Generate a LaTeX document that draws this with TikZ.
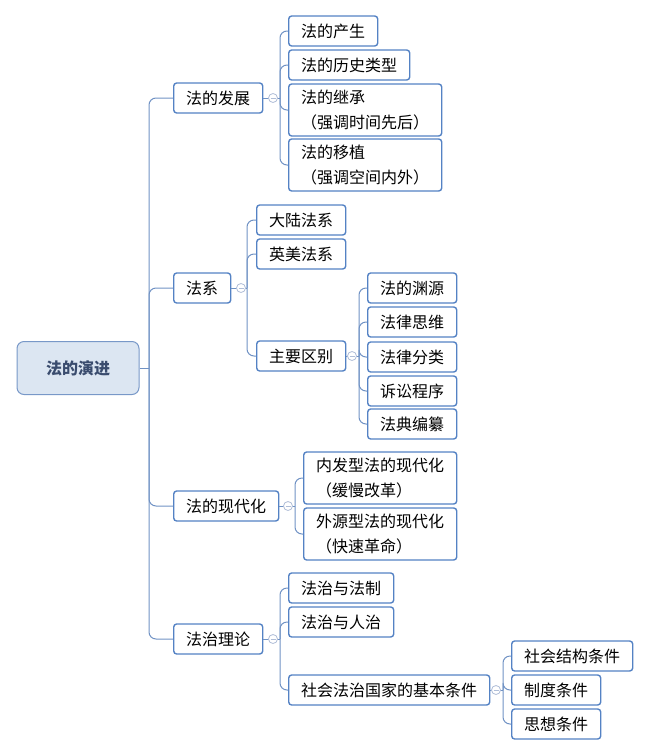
\documentclass[tikz,border=0pt]{standalone}
\usepackage{fontspec}
\newfontfamily\cjk{Noto Sans CJK SC}
\usetikzlibrary{positioning}
\definecolor{mmborder}{RGB}{84,130,196}
\definecolor{mmlink}{RGB}{112,146,196}
\definecolor{mmroot}{RGB}{220,230,242}
\definecolor{mmrootline}{RGB}{120,152,200}
\definecolor{mmroottext}{RGB}{58,76,110}
\definecolor{mmfold}{RGB}{176,190,216}

\begin{document}
\begin{tikzpicture}[x=1pt,y=-1pt,
    every node/.style={font=\cjk\fontsize{16}{25}\selectfont},
    topic/.style={draw=mmborder,line width=1.4pt,rounded corners=3pt,fill=white,
      anchor=west,minimum height=30,inner xsep=12.5,inner ysep=2,align=left},
    twoline/.style={topic,minimum height=52},
    roottopic/.style={draw=mmrootline,line width=1pt,rounded corners=7pt,fill=mmroot,
      minimum width=122,minimum height=53,font=\cjk\bfseries\fontsize{16}{19}\selectfont,
      text=mmroottext},
    link/.style={draw=mmlink,line width=1pt,rounded corners=7pt},
    fold/.style={circle,draw=mmfold,line width=.8pt,fill=white,minimum size=9,inner sep=0pt,
      path picture={\draw[mmfold,line width=.7pt] ([xshift=-2.5pt]path picture bounding box.center)
        -- ([xshift=2.5pt]path picture bounding box.center);}}]
  \useasboundingbox (0,0) rectangle (649,756);

  % root and level one
  \node[roottopic] (root) at (78,368) {法的演进};
  \node[topic] (fazhan) at (173,98) {法的发展};
  \node[topic] (faxi) at (173,288) {法系};
  \node[topic] (xiandai) at (173,506) {法的现代化};
  \node[topic] (fazhi) at (173,639) {法治理论};

  \coordinate (trunk) at (149,368);
  \draw[link] (root.east) -- (trunk);
  \foreach \b in {fazhan,faxi,xiandai,fazhi}
    \draw[link] (trunk) |- (\b.west);

  % 法的发展
  \node[topic] (chansheng) at (288,31) {法的产生};
  \node[topic] (lishi) at (288,65) {法的历史类型};
  \node[twoline] (jicheng) at (288,110) {法的继承\\（强调时间先后）};
  \node[twoline] (yizhi) at (288,165) {法的移植\\（强调空间内外）};

  % 法系
  \node[topic] (dalu) at (256,220) {大陆法系};
  \node[topic] (yingmei) at (256,254) {英美法系};
  \node[topic] (qubie) at (256,356) {主要区别};
  \node[topic] (yuanyuan) at (367,288) {法的渊源};
  \node[topic] (siwei) at (367,322) {法律思维};
  \node[topic] (fenlei) at (367,357) {法律分类};
  \node[topic] (susong) at (367,391) {诉讼程序};
  \node[topic] (fadian) at (367,424) {法典编纂};

  % 法的现代化
  \node[twoline] (neifa) at (303,478) {内发型法的现代化\\（缓慢改革）};
  \node[twoline] (waiyuan) at (303,534) {外源型法的现代化\\（快速革命）};

  % 法治理论
  \node[topic] (fazhizhi) at (288,588) {法治与法制};
  \node[topic] (renzhi) at (288,622) {法治与人治};
  \node[topic] (tiaojian) at (288,690) {社会法治国家的基本条件};
  \node[topic] (jiegou) at (511,656) {社会结构条件};
  \node[topic] (zhidu) at (511,690) {制度条件};
  \node[topic] (sixiang) at (511,724) {思想条件};

  % branches with fold marks
  \foreach \p/\fx/\jx/\kids in {%
      fazhan/273/280/{chansheng,lishi,jicheng,yizhi},
      faxi/241/247/{dalu,yingmei,qubie},
      qubie/352/359/{yuanyuan,siwei,fenlei,susong,fadian},
      xiandai/288/295/{neifa,waiyuan},
      fazhi/273/280/{fazhizhi,renzhi,tiaojian},
      tiaojian/496/503/{jiegou,zhidu,sixiang}}{
    \coordinate (\p-j) at (\jx,0 |- \p.east);
    \foreach \k in \kids
      \draw[link] (\p-j) |- (\k.west);
    \draw[link] (\p.east) -- (\p-j);
    \node[fold] (\p-fold) at (\fx,0 |- \p.east) {};
  }
\end{tikzpicture}
\end{document}
